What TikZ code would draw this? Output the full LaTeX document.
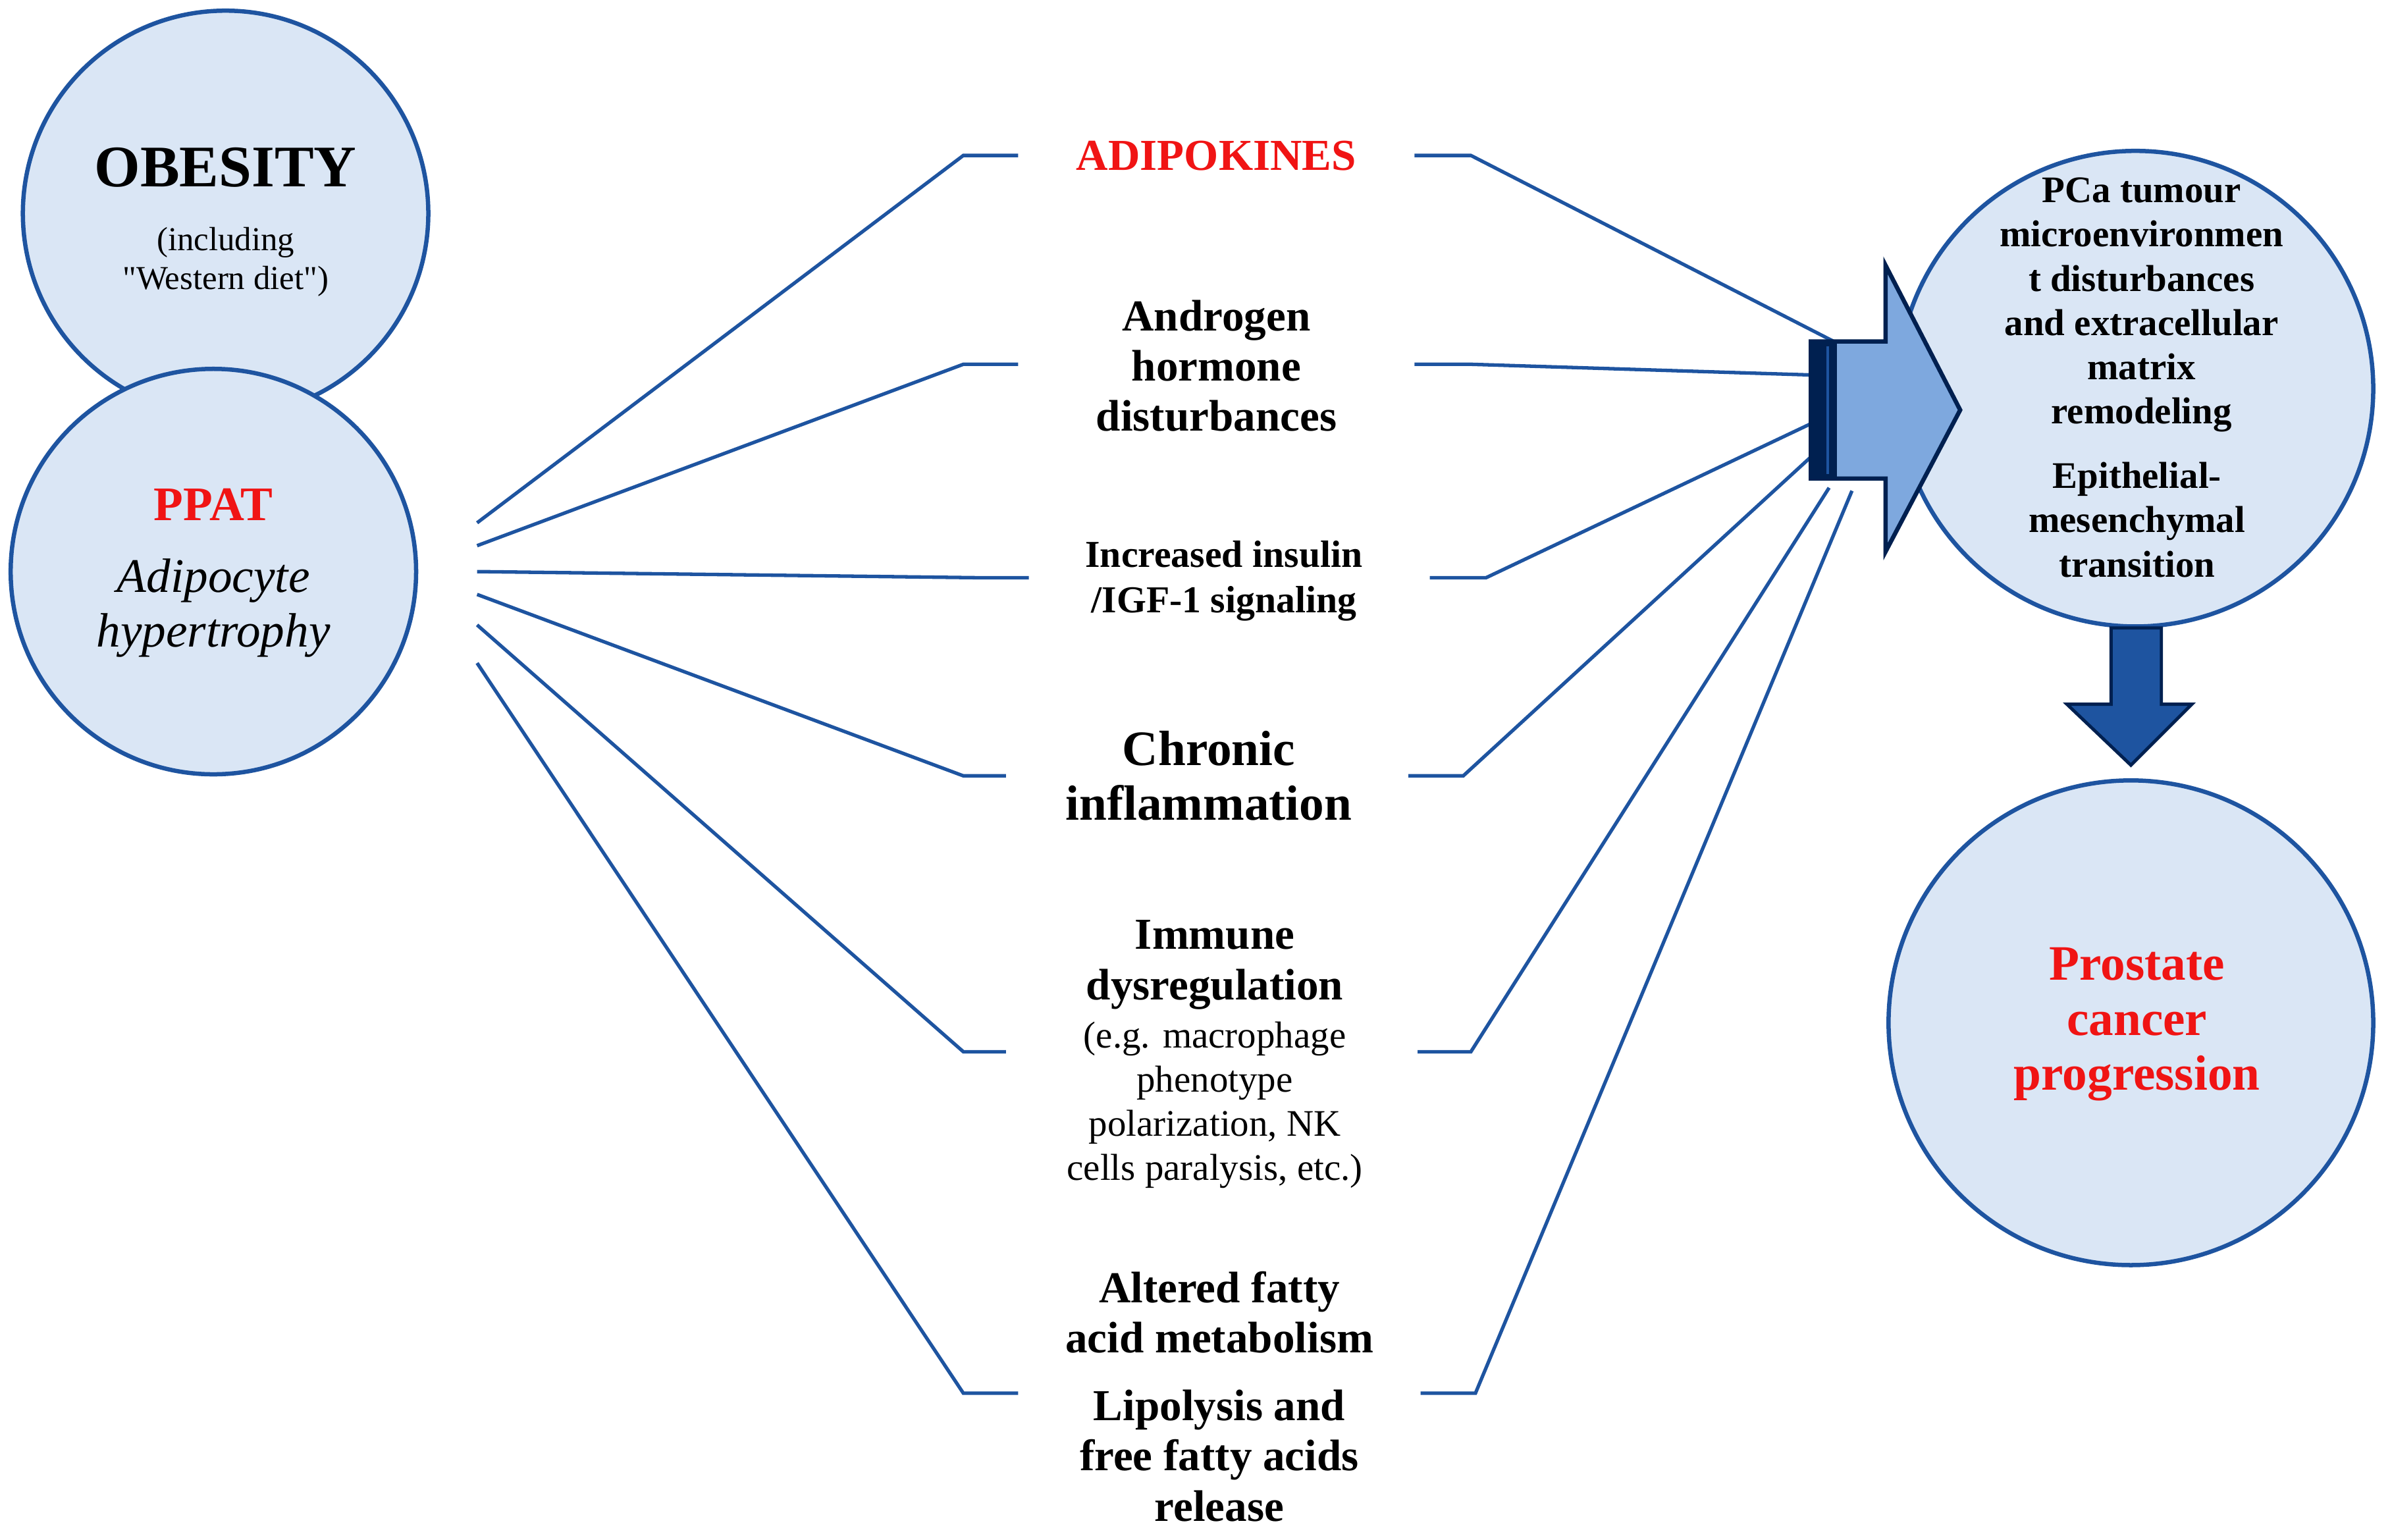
\documentclass[tikz,border=0pt]{standalone}
\usepackage{fontspec}
\setmainfont{Liberation Serif}[Ligatures=TeXOff]
\begin{document}
\begin{tikzpicture}[x=0.02cm,y=-0.02cm,
 circ/.style={circle,draw=ln,line width=1.6pt,fill=cf,inner sep=0pt},
 ln/.style={draw=ln,line width=1.3pt},
 t/.style={align=center,font=\bfseries,inner sep=0pt}]
\definecolor{ln}{RGB}{30,84,160}
\definecolor{cf}{RGB}{218,230,245}
\definecolor{af}{RGB}{126,168,222}
\definecolor{ad}{RGB}{0,32,80}
\definecolor{rd}{RGB}{240,20,20}
\useasboundingbox (0,0) rectangle (1568,1010);
% circles
\node[circ,minimum size=266*0.02cm] (ob) at (148,140) {};
\node[circ,minimum size=266*0.02cm] (pp) at (140,375) {};
\node[circ,minimum size=312*0.02cm] (pc) at (1401,255) {};
\node[circ,minimum size=318*0.02cm] (pr) at (1398,671) {};
% circle texts
\node[t,font=\bfseries\fontsize{22}{25}\selectfont] (obt) at (148,110) {OBESITY};
\node[t,font=\fontsize{12.5}{14.5}\selectfont] (obs) at (148,172) {(including\\"Western diet")};
\node[t,text=rd,font=\bfseries\fontsize{18}{20}\selectfont] (ppt) at (140,331) {PPAT};
\node[t,font=\itshape\fontsize{18}{20.5}\selectfont] (pps) at (140,399) {Adipocyte\\hypertrophy};
\node[t,font=\bfseries\fontsize{14}{16.5}\selectfont] (pct) at (1405,200) {PCa tumour\\microenvironmen\\t disturbances\\and extracellular\\matrix\\remodeling};
\node[t,font=\bfseries\fontsize{14}{16.5}\selectfont] (pcs) at (1402,341) {Epithelial-\\mesenchymal\\transition};
\node[t,text=rd,font=\bfseries\fontsize{18.5}{20.5}\selectfont] (prt) at (1402,672) {Prostate\\cancer\\progression};
% middle texts
\node[t,text=rd,font=\bfseries\fontsize{16.5}{18}\selectfont] (m1) at (798,102) {ADIPOKINES};
\node[t,font=\bfseries\fontsize{16.5}{18.8}\selectfont] (m2) at (798,240) {Androgen\\hormone\\disturbances};
\node[t,font=\bfseries\fontsize{14.2}{17}\selectfont] (m3) at (803,381) {Increased insulin\\/IGF-1 signaling};
\node[t,font=\bfseries\fontsize{18.5}{20.5}\selectfont] (m4) at (793,509) {Chronic\\inflammation};
\node[t,font=\bfseries\fontsize{16.5}{18.8}\selectfont] (m5) at (797,633) {Immune\\dysregulation};
\node[t,font=\fontsize{14}{16.5}\selectfont] (m5s) at (797,725) {(e.g. macrophage\\phenotype\\polarization, NK\\cells paralysis, etc.)};
\node[t,font=\bfseries\fontsize{16.5}{18.5}\selectfont] (m6) at (800,861) {Altered fatty\\acid metabolism};
\node[t,font=\bfseries\fontsize{16.5}{18.8}\selectfont] (m7) at (800,955) {Lipolysis and\\free fatty acids\\release};
% fan coordinates
\coordinate (o1) at (313,343); \coordinate (o2) at (313,358); \coordinate (o3) at (313,375);
\coordinate (o4) at (313,390); \coordinate (o5) at (313,410); \coordinate (o6) at (313,435);
\coordinate (a1) at (1205,225); \coordinate (a2) at (1188,246); \coordinate (a3) at (1188,278);
\coordinate (a4) at (1190,298); \coordinate (a5) at (1200,320); \coordinate (a6) at (1215,322);
\draw[ln] (o1) -- (632,102) -- (668,102);
\draw[ln] (o2) -- (632,239) -- (668,239);
\draw[ln] (o3) -- (640,379) -- (675,379);
\draw[ln] (o4) -- (632,509) -- (660,509);
\draw[ln] (o5) -- (632,690) -- (660,690);
\draw[ln] (o6) -- (632,914) -- (668,914);
\draw[ln] (928,102) -- (965,102) -- (a1);
\draw[ln] (928,239) -- (965,239) -- (a2);
\draw[ln] (938,379) -- (975,379) -- (a3);
\draw[ln] (924,509) -- (960,509) -- (a4);
\draw[ln] (930,690) -- (965,690) -- (a5);
\draw[ln] (932,914) -- (968,914) -- (a6);
% big arrow
\draw[draw=ad,fill=af,line width=1.6pt,line join=miter] (1188,224) -- (1237,224) -- (1237,174) -- (1286,269) -- (1237,362) -- (1237,314) -- (1188,314) -- cycle;
\fill[ad] (1188,224) rectangle (1205,314);
\draw[ln,line width=1pt] (1199,227) -- (1199,311);
% down arrow
\draw[draw=ad,fill=ln,line width=1.2pt] (1385,412) -- (1418,412) -- (1418,462) -- (1438,462) -- (1398,502) -- (1356,462) -- (1385,462) -- cycle;
\end{tikzpicture}
\end{document}
